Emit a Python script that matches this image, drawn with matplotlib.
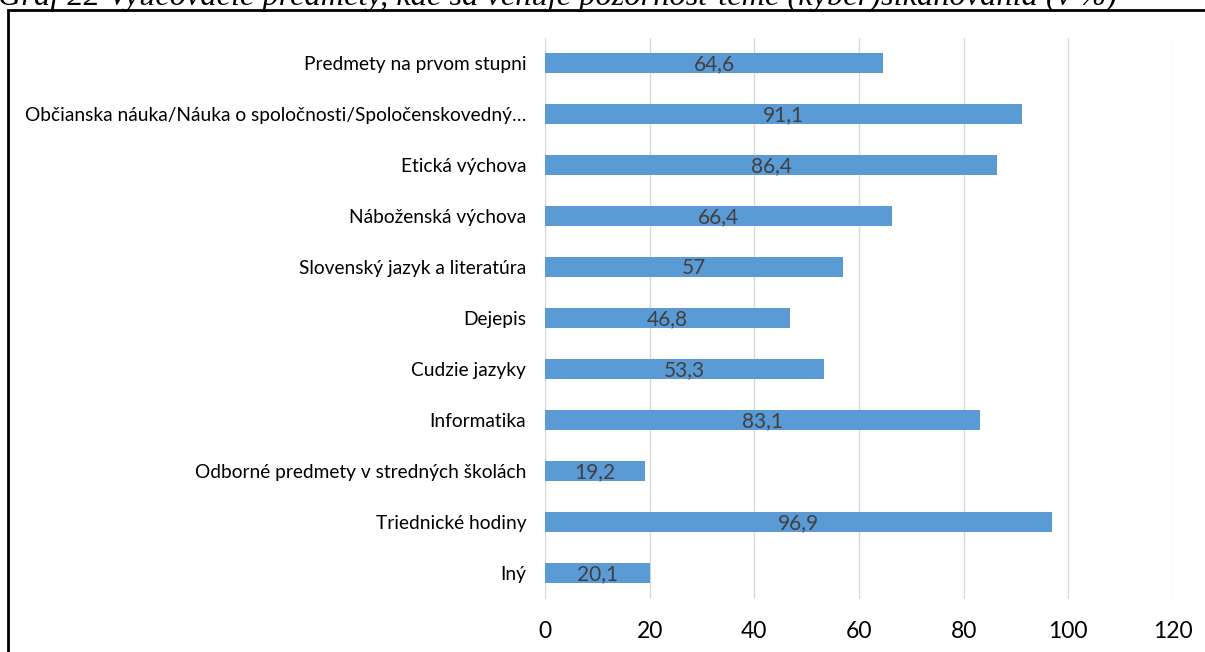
import matplotlib
matplotlib.use("Agg")
import matplotlib.pyplot as plt
from matplotlib.patches import Rectangle

categories = [
    "Predmety na prvom stupni",
    "Občianska náuka/Náuka o spoločnosti/Spoločenskovedný…",
    "Etická výchova",
    "Náboženská výchova",
    "Slovenský jazyk a literatúra",
    "Dejepis",
    "Cudzie jazyky",
    "Informatika",
    "Odborné predmety v stredných školách",
    "Triednické hodiny",
    "Iný",
]
values = [64.6, 91.1, 86.4, 66.4, 57, 46.8, 53.3, 83.1, 19.2, 96.9, 20.1]
value_labels = ["64,6", "91,1", "86,4", "66,4", "57", "46,8", "53,3", "83,1", "19,2", "96,9", "20,1"]
xticks = [0, 20, 40, 60, 80, 100, 120]
title = "Graf 22 Vyučovacie predmety, kde sa venuje pozornosť téme (kyber)šikanovania (v %)"

fig = plt.figure(figsize=(12.05, 6.52), dpi=100)
W, H = 1205, 652
ax = fig.add_axes([545 / W, 53.5 / H, (1173 - 545) / W, (614.5 - 53.5) / H])

font = "Lato"
y = list(range(len(categories)))
ax.barh(y, values, height=0.39, color="#5B9BD5", zorder=3)
for yi, v, lab in zip(y, values, value_labels):
    ax.text(v / 2, yi + 0.02, lab, ha="center", va="center", fontsize=15,
            color="#404040", family=font, zorder=4)

ax.set_xlim(0, 120)
ax.set_ylim(len(categories) - 0.5, -0.5)
ax.set_xticks(xticks)
ax.set_xticklabels([str(t) for t in xticks], fontsize=16.5, family=font, color="black")
ax.set_yticks(y)
ax.set_yticklabels(categories, fontsize=13.8, family=font, color="black")
ax.tick_params(axis="both", length=0)
ax.tick_params(axis="x", pad=16.5)
ax.tick_params(axis="y", pad=13.5)
ax.grid(axis="x", color="#D9D9D9", linewidth=1, zorder=0)
for s in ax.spines.values():
    s.set_visible(False)

fig.patches.append(Rectangle((8 / W, -0.1), 1.2, (652 - 10) / H + 0.1,
                             transform=fig.transFigure, fill=False,
                             edgecolor="black", linewidth=2, zorder=10))
fig.text(-2 / W, 1 - 5 / H, title, family="Liberation Serif", style="italic",
         fontsize=23.3, va="baseline", ha="left")

fig.savefig("out.png", dpi=100)
